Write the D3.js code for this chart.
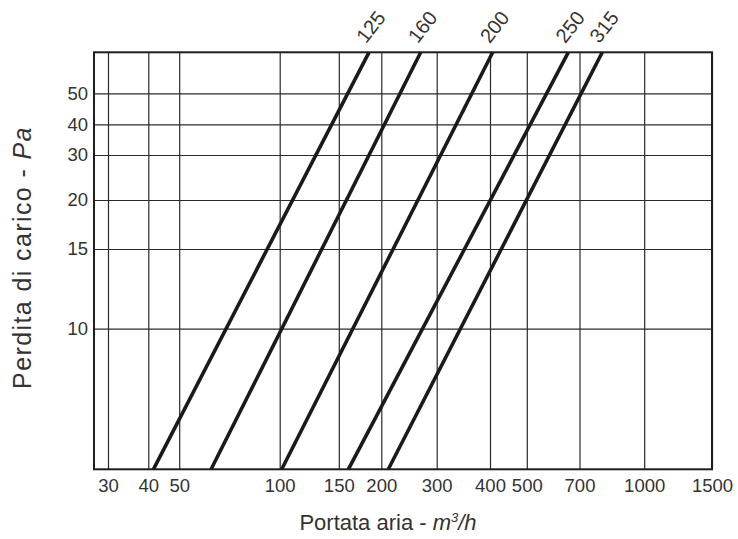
<!DOCTYPE html>
<html><head><meta charset="utf-8">
<script src="https://cdn.jsdelivr.net/npm/d3@7"></script>
<style>
body{margin:0;background:#fff}
svg{display:block}
text{font-family:"Liberation Sans",Arial,Helvetica,sans-serif;fill:#333}
</style>
</head><body>
<svg id="c" width="738" height="539"></svg>
<script>
// ---- data ----
const diameters = ["125", "160", "200", "250", "315"];
const flowAtMinLoss = [41.5, 62.3, 101.4, 160, 210.5];   // m3/h at bottom of chart (5 Pa)
const flowAtMaxLoss = [184, 266.9, 406.6, 651.7, 793.7]; // m3/h at top of chart (67 Pa)
const xTicks = [30, 40, 50, 100, 150, 200, 300, 400, 500, 700, 1000, 1500];
const yTicks = [10, 15, 20, 30, 40, 50];
const yMin = 5, yMax = 67;

// ---- axis calibration (reference grid is drawn non-uniformly) ----
const xCalib = [27, 30, 40, 50, 100, 150, 200, 300, 400, 500, 700, 1000, 1500];
const xCalibFrac = [0, 0.02265, 0.08786, 0.13786, 0.30049, 0.39612, 0.46489, 0.55453, 0.64078, 0.70032, 0.78560, 0.89029, 1];
const yCalib = [yMin, 10, 15, 20, 30, 40, 50, yMax];
const yCalibFrac = [0, 0.33717, 0.52830, 0.64580, 0.75372, 0.82734, 0.90168, 1];

const L = 94, T = 52.3, W = 618, H = 417, B = T + H;
const svg = d3.select("#c");

const x = d3.scaleLog().domain(xCalib).range(xCalibFrac.map(f => L + f * W));
const y = d3.scaleLog().domain(yCalib).range(yCalibFrac.map(f => B - f * H));

// grid + x axis
const gx = svg.append("g").attr("transform", `translate(0,${B})`)
  .call(d3.axisBottom(x).tickValues(xTicks).tickSize(-H).tickPadding(10).tickFormat(d3.format("d")));
gx.select(".domain").remove();
gx.selectAll(".tick line").attr("stroke", "#2a2a2a").attr("stroke-width", 1.2);
gx.selectAll(".tick text").style("font-size", "18.5px").attr("fill", "#333");

const gy = svg.append("g").attr("transform", `translate(${L},0)`)
  .call(d3.axisLeft(y).tickValues(yTicks).tickSize(-W).tickPadding(6).tickFormat(d3.format("d")));
gy.select(".domain").remove();
gy.selectAll(".tick line").attr("stroke", "#2a2a2a").attr("stroke-width", 1.2);
gy.selectAll(".tick text").style("font-size", "18.5px").attr("fill", "#333");

// frame
svg.append("rect").attr("x", L).attr("y", T).attr("width", W).attr("height", H)
  .attr("fill", "none").attr("stroke", "#1e1e1e").attr("stroke-width", 2);

// diameter lines
const line = d3.line().x(d => x(d[0])).y(d => y(d[1]));
diameters.forEach((dn, i) => {
  svg.append("path")
    .attr("d", line([[flowAtMinLoss[i], yMin], [flowAtMaxLoss[i], yMax]]))
    .attr("fill", "none").attr("stroke", "#1a1a1a").attr("stroke-width", 3.6);
  const lx = x(flowAtMaxLoss[i]) - 3, ly = y(yMax) - 8;
  svg.append("text").attr("transform", `translate(${lx},${ly}) rotate(-52)`)
    .style("font-size", "20px").text(dn);
});

// axis titles
const xt = svg.append("text").attr("x", 388).attr("y", 530).attr("text-anchor", "middle").style("font-size", "22px");
xt.append("tspan").text("Portata aria - ");
xt.append("tspan").style("font-style", "italic").text("m");
xt.append("tspan").style("font-style", "italic").style("font-size", "13px").attr("dy", "-8").text("3");
xt.append("tspan").style("font-style", "italic").attr("dy", "8").text("/h");

const yt = svg.append("text").attr("transform", "translate(31,257.5) rotate(-90)")
  .attr("text-anchor", "middle").style("font-size", "25px").style("letter-spacing", "1.4px");
yt.append("tspan").text("Perdita di carico - ");
yt.append("tspan").style("font-style", "italic").text("Pa");
</script>
</body></html>
